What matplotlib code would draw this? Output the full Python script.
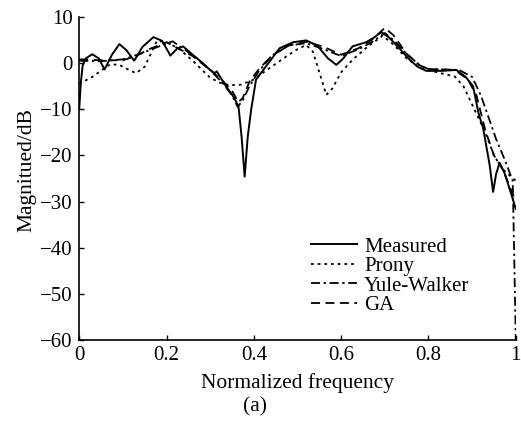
import matplotlib.pyplot as plt
import numpy as np

plt.rcParams['font.family'] = ['Liberation Serif', 'DejaVu Serif']

# Measured
x_meas = [0.0, 0.004, 0.008, 0.015, 0.03, 0.045, 0.058, 0.075, 0.092, 0.108, 0.126,
          0.145, 0.17, 0.19, 0.209, 0.225, 0.238, 0.26, 0.28, 0.3, 0.31, 0.315, 0.336,
          0.355, 0.365, 0.372, 0.379, 0.386, 0.394, 0.405, 0.428, 0.459, 0.49, 0.52,
          0.545, 0.57, 0.589, 0.605, 0.626, 0.657, 0.675, 0.692, 0.71, 0.735, 0.757,
          0.775, 0.795, 0.83, 0.864, 0.885, 0.902, 0.915, 0.925, 0.94, 0.948, 0.955,
          0.963, 0.975, 0.99, 1.0]
y_meas = [-10, -4, -0.5, 1.0, 1.9, 1.0, -1.4, 1.8, 4.1, 2.8, 0.5,
          3.5, 5.6, 4.8, 1.6, 3.2, 3.6, 1.8, 0.2, -1.5, -2.2, -1.8, -5,
          -7.5, -9.5, -16, -24.6, -16, -10, -3.6, -0.7, 3.2, 4.5, 4.9,
          3.8, 1.0, -0.4, 1.0, 3.6, 4.5, 5.5, 6.7, 5.5, 3.0, 0.7,
          -0.8, -1.7, -1.7, -1.5, -3, -5, -11, -14, -22, -27.9, -24,
          -21.6, -24, -28.5, -31.6]

# Prony
x_prony = [0.0, 0.03, 0.069, 0.09, 0.11, 0.13, 0.15, 0.178, 0.2, 0.23, 0.26, 0.298,
           0.32, 0.344, 0.37, 0.397, 0.43, 0.474, 0.5, 0.52, 0.535, 0.55, 0.566, 0.58,
           0.6, 0.626, 0.66, 0.695, 0.72, 0.75, 0.78, 0.81, 0.86, 0.88, 0.902, 0.93,
           0.95, 0.97, 1.0]
y_prony = [-4.5, -3, -0.4, -0.3, -1.3, -2.2, -0.8, 4.8, 4.5, 3.0, 0.5, -3,
           -4.2, -4.8, -4.7, -3.7, -1.5, 1.4, 3.0, 3.9, 2.5, -2, -6.9, -5.5,
           -2, 0.7, 3.5, 5.9, 4.0, 1.0, -1.0, -1.8, -2.9, -5, -9.4, -15,
           -20, -23, -25.5]

# Yule-Walker
x_yw = [0.0, 0.05, 0.1, 0.14, 0.18, 0.214, 0.24, 0.27, 0.3, 0.33, 0.35, 0.363,
        0.375, 0.39, 0.41, 0.44, 0.48, 0.52, 0.56, 0.6, 0.64, 0.67, 0.7, 0.72,
        0.75, 0.78, 0.8, 0.87, 0.9, 0.92, 0.94, 0.955, 0.975, 0.993, 0.996, 1.0]
y_yw = [0.5, 0.4, 0.8, 2.0, 3.5, 4.7, 3.0, 1.0, -1.5, -4.5, -7, -9.5,
        -8, -5, -2, 1.5, 3.8, 4.3, 3.0, 1.5, 3.0, 4.5, 6.5, 5.0,
        2.0, -0.5, -1.3, -1.5, -3, -7, -12.4, -16.5, -21, -25.5, -40, -60]

# GA
x_ga = [0.0, 0.05, 0.1, 0.13, 0.16, 0.2, 0.23, 0.26, 0.3, 0.33, 0.35, 0.365,
        0.375, 0.39, 0.41, 0.44, 0.48, 0.52, 0.56, 0.6, 0.64, 0.67, 0.7, 0.72,
        0.75, 0.78, 0.8, 0.86, 0.89, 0.91, 0.93, 0.95, 0.97, 1.0]
y_ga = [0.8, 0.6, 0.6, 1.5, 3.0, 4.5, 3.0, 1.5, -1.5, -4, -6, -8.5,
        -7.5, -4, -1.5, 1.5, 3.8, 4.6, 3.5, 1.8, 3.2, 5.0, 7.6, 6.0,
        2.0, -0.5, -1.3, -1.5, -3.5, -7, -14.5, -20, -23, -30]

fig = plt.figure(figsize=(5.21, 4.21), dpi=100)
ax = fig.add_axes([0.152, 0.192, 0.838, 0.768])

ax.plot(x_meas, y_meas, color='black', lw=1.4, label='Measured')
ax.plot(x_prony, y_prony, color='black', lw=1.3, dashes=(1.5, 2.2), label='Prony')
ax.plot(x_yw, y_yw, color='black', lw=1.3, dashes=(5, 2, 1.3, 2), label='Yule-Walker')
ax.plot(x_ga, y_ga, color='black', lw=1.3, dashes=(5, 3), label='GA')

ax.set_xlim(0, 1)
ax.set_ylim(-60, 10)
ax.set_xticks([0, 0.2, 0.4, 0.6, 0.8, 1])
ax.set_xticklabels(['0', '0.2', '0.4', '0.6', '0.8', '1'])
ax.set_yticks(np.arange(-60, 11, 10))
ax.set_yticklabels(['\u221260', '\u221250', '\u221240', '\u221230', '\u221220',
                    '\u221210', '0', '10'])
ax.tick_params(direction='in', length=3.5, width=1, labelsize=15, pad=4.5)
for s in ['top', 'right']:
    ax.spines[s].set_visible(False)
for s in ['left', 'bottom']:
    ax.spines[s].set_linewidth(1.2)

ax.set_xlabel('Normalized frequency', fontsize=15.5, labelpad=5.5)
ax.set_ylabel('Magnitued/dB', fontsize=15.5)
ax.yaxis.set_label_coords(-0.098, 0.526)
fig.text(0.49, 0.033, '(a)', fontsize=15.5, ha='center', va='center')

ax.legend(loc='upper left', bbox_to_anchor=(0.531, 0.319), frameon=False,
          fontsize=15, handlelength=2.2, handletextpad=0.35, labelspacing=0.0,
          borderaxespad=0, borderpad=0)

fig.savefig('out.png', dpi=100)
